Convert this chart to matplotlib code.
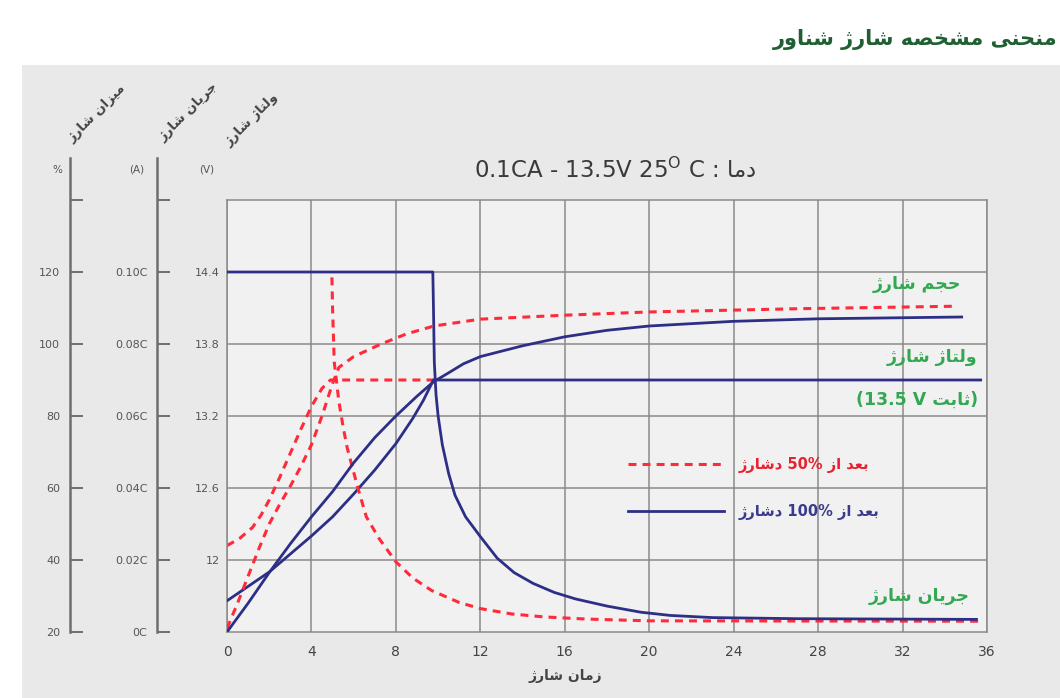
import matplotlib
matplotlib.use('Agg')
import matplotlib.pyplot as plt
from matplotlib.patches import Rectangle

plt.rcParams['font.family'] = ['DejaVu Sans']

# ---- data ----
hours_ticks = [0, 4, 8, 12, 16, 20, 24, 28, 32, 36]
volt_ticks = [12, 12.6, 13.2, 13.8, 14.4]
volt_labels = ['12', '12.6', '13.2', '13.8', '14.4']
amp_ticks = [0, 0.02, 0.04, 0.06, 0.08, 0.10, 0.12]
amp_labels = ['0C', '0.02C', '0.04C', '0.06C', '0.08C', '0.10C', '']
pct_ticks = [20, 40, 60, 80, 100, 120, 140]
pct_labels = ['20', '40', '60', '80', '100', '120', '']

# after 100% discharge (blue solid)
blue_volt_t = [0, 1, 2, 3, 4, 5, 6, 7, 8, 8.8, 9.3, 9.78, 35.7]
blue_volt = [11.66, 11.78, 11.9, 12.05, 12.2, 12.36, 12.55, 12.75, 12.97, 13.18, 13.33, 13.5, 13.5]
blue_cur_t = [0, 9.75, 9.78, 9.82, 9.9, 10.0, 10.2, 10.5, 10.8, 11.3, 12.0, 12.8, 13.6, 14.5,
              15.5, 16.5, 18, 19.6, 21, 23, 27, 35.5]
blue_cur = [0.10, 0.10, 0.090, 0.075, 0.066, 0.060, 0.052, 0.044, 0.038, 0.032, 0.0265, 0.0205,
            0.0165, 0.0135, 0.011, 0.0092, 0.0072, 0.0055, 0.0046, 0.0040, 0.0037, 0.0035]
blue_cap_t = [0, 1, 2, 3, 4, 5, 6, 7, 8, 9, 9.78, 10.5, 11.2, 12, 14, 16, 18, 20, 24, 28, 34.8]
blue_cap = [20, 28, 36.5, 44.5, 52, 59, 67, 74, 80, 85.5, 89.5, 92, 94.5, 96.5, 99.5, 102,
            103.8, 105, 106.3, 107, 107.5]

# after 50% discharge (red dashed)
red_volt_t = [0, 0.6, 1.2, 1.6, 2.0, 2.5, 3.0, 3.5, 4.0, 4.5, 4.9, 9.8]
red_volt = [12.12, 12.18, 12.27, 12.37, 12.5, 12.69, 12.89, 13.09, 13.28, 13.43, 13.5, 13.5]
red_cur_t = [4.97, 5.0, 5.08, 5.3, 5.5, 5.7, 6.2, 6.6, 7.2, 8.0, 8.8, 9.7, 11, 12, 13.5,
             15, 17, 20, 35.6]
red_cur = [0.0985, 0.090, 0.075, 0.064, 0.057, 0.051, 0.040, 0.032, 0.026, 0.0195, 0.015,
           0.0115, 0.0082, 0.0065, 0.005, 0.0042, 0.0036, 0.0031, 0.003]
red_cap_t = [0, 0.5, 1.0, 1.5, 2.0, 2.5, 3.0, 3.5, 4.0, 4.5, 5.0, 5.3, 6.0, 7.3, 8.5, 9.8,
             12, 16, 20, 27, 34.6]
red_cap = [21, 28, 35.5, 43, 50, 55.5, 60.5, 66, 72, 80, 89, 93.5, 96.5, 100, 102.8, 105,
           106.9, 108, 108.9, 109.8, 110.5]

# ---- simple Persian shaping (presentation forms) + visual ordering ----
FORMS = {
    'ا': ('\uFE8D', '\uFE8E', None, None),
    'ب': ('\uFE8F', '\uFE90', '\uFE91', '\uFE92'),
    'ت': ('\uFE95', '\uFE96', '\uFE97', '\uFE98'),
    'ث': ('\uFE99', '\uFE9A', '\uFE9B', '\uFE9C'),
    'ج': ('\uFE9D', '\uFE9E', '\uFE9F', '\uFEA0'),
    'ح': ('\uFEA1', '\uFEA2', '\uFEA3', '\uFEA4'),
    'خ': ('\uFEA5', '\uFEA6', '\uFEA7', '\uFEA8'),
    'د': ('\uFEA9', '\uFEAA', None, None),
    'ر': ('\uFEAD', '\uFEAE', None, None),
    'ز': ('\uFEAF', '\uFEB0', None, None),
    'ژ': ('\uFB8A', '\uFB8B', None, None),
    'ش': ('\uFEB5', '\uFEB6', '\uFEB7', '\uFEB8'),
    'ص': ('\uFEB9', '\uFEBA', '\uFEBB', '\uFEBC'),
    'ع': ('\uFEC9', '\uFECA', '\uFECB', '\uFECC'),
    'ل': ('\uFEDD', '\uFEDE', '\uFEDF', '\uFEE0'),
    'م': ('\uFEE1', '\uFEE2', '\uFEE3', '\uFEE4'),
    'ن': ('\uFEE5', '\uFEE6', '\uFEE7', '\uFEE8'),
    'ه': ('\uFEE9', '\uFEEA', '\uFEEB', '\uFEEC'),
    'و': ('\uFEED', '\uFEEE', None, None),
    'ی': ('\uFBFC', '\uFBFD', '\uFBFE', '\uFBFF'),
}


def shape_word(w):
    out = []
    for i, c in enumerate(w):
        if c not in FORMS:
            out.append(c)
            continue
        prev = w[i - 1] if i > 0 else None
        nxt = w[i + 1] if i + 1 < len(w) else None
        jp = prev in FORMS and FORMS[prev][2] is not None
        jn = FORMS[c][2] is not None and nxt in FORMS
        iso, fin, ini, med = FORMS[c]
        if jp and jn:
            out.append(med)
        elif jp:
            out.append(fin)
        elif jn:
            out.append(ini)
        else:
            out.append(iso)
    return ''.join(reversed(out))


def rtl(text):
    # words right to left, latin/number runs kept left to right
    runs = []
    for tok in text.split(' '):
        if any(c in FORMS for c in tok):
            runs.append(shape_word(tok))
        elif runs and isinstance(runs[-1], tuple):
            runs[-1] = ('L', runs[-1][1] + ' ' + tok)
        else:
            runs.append(('L', tok))
    parts = [r[1] if isinstance(r, tuple) else r for r in runs]
    return ' '.join(reversed(parts))


W, H = 1060, 698


def P(px, py):
    return px / W, 1 - py / H


fig = plt.figure(figsize=(W / 100, H / 100), dpi=100)
fig.patch.set_facecolor('white')
fig.add_artist(Rectangle((22 / W, 0), 1, 1 - 65 / H, transform=fig.transFigure,
                         facecolor='#e9e9e9', edgecolor='none', zorder=0))

x0, y0 = P(227, 632)
ax = fig.add_axes([x0, y0, 760 / W, 432 / H])
ax.set_facecolor('#f1f1f1')
ax.set_xlim(0, 36)
ax.set_ylim(11.4, 15.0)
ax.set_xticks(hours_ticks)
ax.set_xticklabels([str(t) for t in hours_ticks], fontsize=10, color='#444')
ax.set_yticks(volt_ticks)
ax.set_yticklabels(volt_labels, fontsize=8, color='#555')
ax.tick_params(length=0, pad=5)
ax.tick_params(axis='x', pad=9)
ax.grid(True, color='#8a8a8a', lw=1.1)
for s in ax.spines.values():
    s.set_color('#8a8a8a')
    s.set_linewidth(1.1)

ax_cur = ax.twinx()
ax_cur.set_ylim(0, 0.12)
ax_pct = ax.twinx()
ax_pct.set_ylim(20, 140)
for a in (ax_cur, ax_pct):
    a.axis('off')

red = '#ff2a3a'
navy = '#2d2f86'
dash = (2.6, 2.0)

# red dashed (50%)
ax_cur.plot(red_cur_t, red_cur, color=red, lw=2.2, dashes=dash, zorder=2)
ax_pct.plot(red_cap_t, red_cap, color=red, lw=2.2, dashes=dash, zorder=2)
lr, = ax.plot(red_volt_t, red_volt, color=red, lw=2.2, dashes=dash, zorder=2)
# blue solid (100%)
ax_cur.plot(blue_cur_t, blue_cur, color=navy, lw=2.0, zorder=3)
ax_pct.plot(blue_cap_t, blue_cap, color=navy, lw=2.0, zorder=3)
lb, = ax.plot(blue_volt_t, blue_volt, color=navy, lw=2.0, zorder=3)

leg = ax.legend([lr, lb], [rtl('بعد از 50% دشارژ'), rtl('بعد از 100% دشارژ')],
                loc='upper left', bbox_to_anchor=P(628, 457), bbox_transform=fig.transFigure,
                frameon=False, handlelength=6.6, handletextpad=1.0, labelspacing=2.1,
                borderpad=0, borderaxespad=0, prop={'size': 10.5, 'weight': 'bold'})
leg.get_texts()[0].set_color('#e8202f')
leg.get_texts()[1].set_color('#3a3a8f')

# left axes: current and percent
for px, top, ticks, labels in [(157, 0.12 * 474 / 432, amp_ticks, amp_labels),
                               (70, 20 + 120 * 474 / 432, pct_ticks, pct_labels)]:
    sx, sy = P(px, 632)
    sa = fig.add_axes([sx, sy, 1e-4, 474 / H])
    sa.patch.set_visible(False)
    sa.set_ylim(ticks[0], top)
    sa.set_xticks([])
    for k in ('right', 'top', 'bottom'):
        sa.spines[k].set_visible(False)
    sa.spines['left'].set_color('#6e6e6e')
    sa.spines['left'].set_linewidth(1.8)
    sa.set_yticks(ticks)
    sa.set_yticklabels(labels, fontsize=8, color='#555')
    sa.tick_params(axis='y', direction='in', length=9, width=1.4, color='#6e6e6e', pad=7)

# unit labels
for px, s in [(57, '%'), (137, '(A)'), (207, '(V)')]:
    fig.text(*P(px, 170), s, fontsize=7.5, color='#555', ha='center', va='center')

for px, py, s in [(97, 113, 'میزان شارژ'), (188, 112, 'جریان شارژ'), (252, 120, 'ولتاژ شارژ')]:
    fig.text(*P(px, py), rtl(s), fontsize=9.5, color='#444', rotation=45,
             ha='center', va='center', fontweight='bold')

# titles
fig.text(*P(1058, 40), rtl('منحنی مشخصه شارژ شناور'), fontsize=15, fontweight='bold',
         color='#1f5f33', ha='right', va='center')
fig.text(*P(615, 170), '0.1CA - 13.5V 25$^{\\rm O}$ C : ' + rtl('دما'), fontsize=16.5,
         color='#3a3a3a', ha='center', va='center')

# green curve labels
green = '#33a852'
for px, py, s in [(961, 284, rtl('حجم شارژ')), (977, 357, rtl('ولتاژ شارژ')),
                  (978, 400, '(' + rtl('ثابت 13.5 V') + ')'), (970, 596, rtl('جریان شارژ'))]:
    fig.text(*P(px, py), s, fontsize=12.5, fontweight='bold', color=green, ha='right', va='center')

fig.text(*P(565, 676), rtl('زمان شارژ'), fontsize=10, color='#444', ha='center', va='center',
         fontweight='bold')

fig.savefig('out.png', dpi=100)
